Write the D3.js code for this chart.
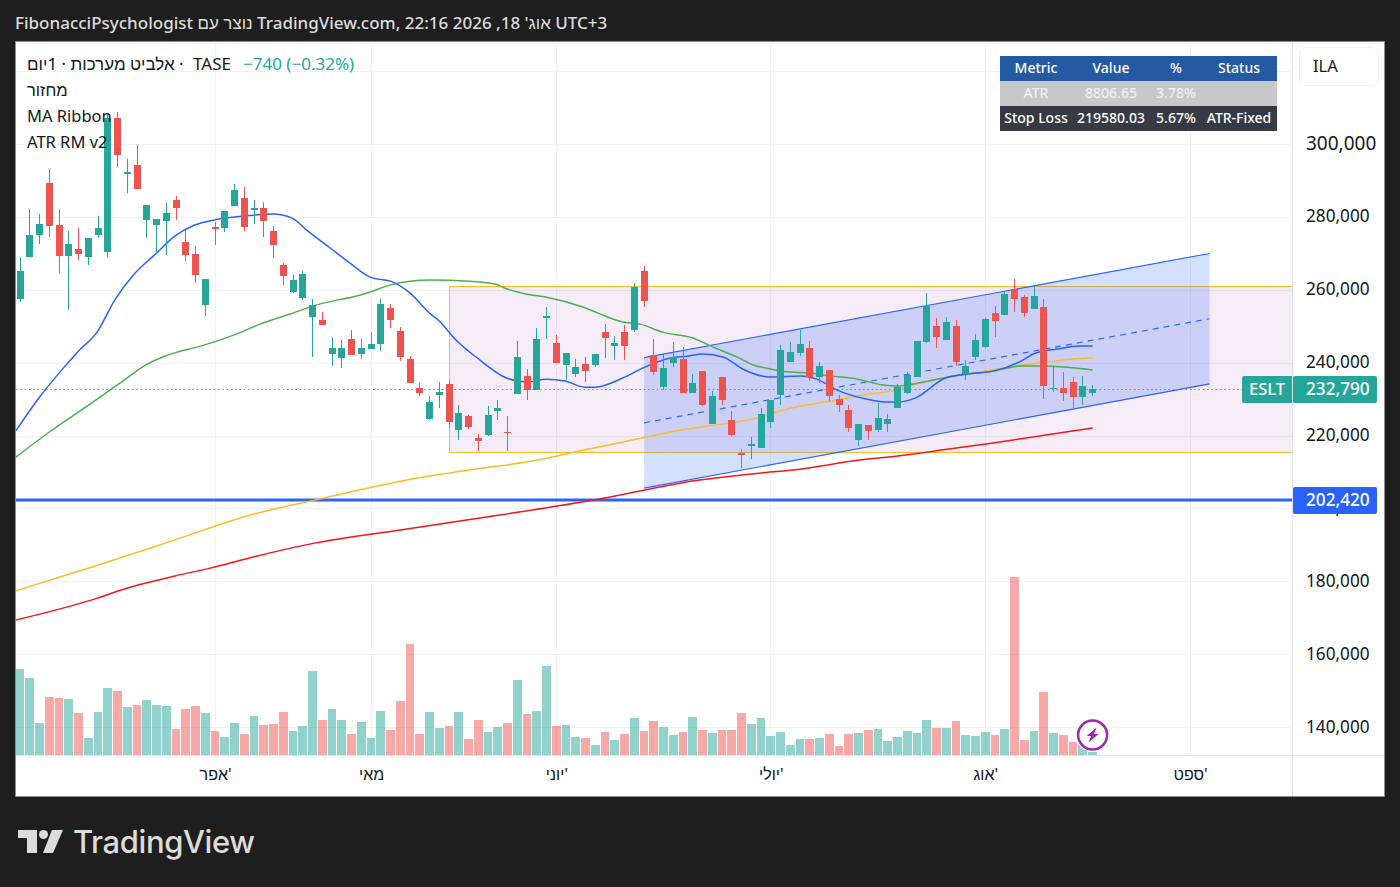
<!DOCTYPE html>
<html lang="he">
<head>
<meta charset="utf-8">
<title>ESLT</title>
<script src="https://cdn.jsdelivr.net/npm/d3@7"></script>
<style>
  html, body { margin: 0; padding: 0; background: #1e1e1e; }
  svg { display: block; font-family: "Noto Sans", "Liberation Sans", sans-serif; }
</style>
</head>
<body>
<div id="chart"></div>
<script>
const width = 1400;
const height = 887;

// Prices in thousands of ILA, one entry per trading day
const candleOpen = [
  257.6,269.1,275.2,289.4,277.9,269.4,271.3,269.1,275.2,270.5,
  307.3,292.2,294.4,279.3,277.9,279,284.8,273.2,269.9,255.9,
  277.3,277.1,283.1,285.3,282,282.6,276.2,266.9,259.5,257.9,
  252.6,251.8,242.5,241.4,246.6,242.5,243.9,245.2,255.1,248.8,
  241.1,233.2,224.6,231.2,234.3,221.6,225.5,219.4,220.3,226.9,
  221.1,231.5,236.5,232.6,252.4,245.5,239.5,237,239.8,239.5,
  248.5,244.7,248.5,249.1,265.3,242.2,233.4,240,241.1,231.8,
  237.8,223.3,236.2,224.4,215.3,217.5,216.7,223.8,231.2,240.3,
  242.8,244.1,236.2,238.1,230.1,227.1,218.9,223,221.6,223.3,
  227.7,231.8,236.2,245.8,250.2,246.3,250.2,237,241.7,244.4,
  253.8,253.2,260.3,258.1,254.8,255.4,232.9,233.2,234.8,230.7,231.8
];
const candleHigh = [
  269.1,282.3,280.9,293.3,282.3,276.2,277.1,274.3,280.4,308.6,
  308.9,296,299.9,283.4,279.5,283.9,285.9,277.1,272.1,263.1,
  278.7,281.7,289.1,288.3,284.8,284.2,277.6,267.5,264.2,265.3,
  257.6,254,247.2,246.3,249.1,246.6,248.5,257.6,256.2,249.9,
  241.9,234.5,231,234.8,235.4,228.5,225.8,220.5,228.2,229.9,
  225.5,246,238.4,249.6,255.4,247.7,242.8,241.1,241.7,242.5,
  250.7,247.4,250.5,262,266.6,246.6,242.5,245.8,244.4,237,
  237.8,232.3,236.2,226.9,216.4,219.7,227.7,229.9,245,245.8,
  249.1,246,240.3,238.1,231.2,228.5,223.3,223,229.1,226,
  234.3,237.6,246,259.2,252.4,252.6,251.8,240.9,248,252.4,
  255.7,259.8,263.1,258.7,261.4,257.6,238.9,237.6,236.2,236.5,234
];
const candleLow = [
  256.8,269.1,272.7,274.6,264.7,254.6,268.3,266.9,274.3,269.1,
  293.8,286.7,287.8,274.3,270.5,269.7,279.3,268,262,252.9,
  272.4,276,283.1,276.2,278.2,274.6,268.8,261.4,259.2,257.4,
  241.7,250.5,239.2,238.7,242.2,241.1,243.9,243.3,249.6,240.6,
  234.5,231,224.4,227.7,222.2,218.9,221.9,215.9,220,224.4,
  215.9,231.5,229.9,232.6,246.6,240,235.4,236.2,234.8,238.9,
  241.4,240.9,240.9,248.5,255.4,236.7,232.6,238.9,231.8,231.8,
  228.2,223.3,228.5,220,211.2,213.7,216.7,222.2,228.5,240.3,
  241.9,235.1,234.5,229.6,226.6,221.1,217.3,218.9,221.1,221.1,
  227.7,231.5,236.2,245.5,244.1,246.3,239.2,235.4,240.9,244.1,
  247.2,253.2,254,252.6,254.8,230.2,232.1,229.6,227.7,228.5,231
];
const candleClose = [
  265.3,275.2,278.2,277.6,269.4,272.7,269.9,274.3,277.1,307.3,
  297.1,292.4,287.8,283.4,279.5,281.2,282.6,269.7,264.2,263.1,
  276.8,281.7,287.5,277.3,282.6,279,272.4,263.9,262.8,264.5,
  255.9,250.5,244.1,244.1,242.2,244.1,245.2,256.2,251.8,241.7,
  234.5,231.8,229.3,232.1,223.8,226.3,222.5,218.6,225.8,227.7,
  220.8,241.7,232.6,246.6,252.9,240,242.8,238.9,237.8,242.5,
  246.9,245.5,244.7,260.9,257,237.6,238.7,241.7,231.8,234.5,
  228.5,231,229.9,220.3,215,217.8,226,229.9,243.6,243,
  245.2,236.2,239.2,231,228.5,222.2,223.3,221.4,224.9,224.7,
  233.4,236.7,246,255.7,247.2,251.3,240.3,239.2,246.3,252.1,
  251.6,258.9,257.6,253.8,258.4,233.7,233.2,231.8,230.7,233.7,232.79
];
// Volume, estimated relative heights (no scale is shown on the picture)
const volume = [
  86,77,32,58,57,56,42,17,43,67,64,48,50,55,50,49,26,46,49,42,
  24,18,32,21,39,30,31,43,24,29,84,35,46,35,21,33,17,44,25,54,
  111,21,43,27,29,43,16,35,23,28,32,75,41,44,89,29,30,18,17,10,
  23,15,21,37,24,34,28,20,23,38,25,22,25,25,42,31,37,19,23,10,
  16,16,17,21,9,21,22,25,26,14,18,24,22,35,27,27,34,20,19,23,
  20,26,178,15,24,63,22,20,13,10,3
];

// Moving averages: [candle index, price]
const maBlue = [[-0.44,221.4],[2,230.7],[4.1,237.6],[6.1,243.6],[7.9,248.5],[9.7,257.3],[11.8,264.7],[13.8,269.7],[15.9,274.9],[17.9,277.9],[19.9,279.3],[22,280.1],[23.9,280.6],[25.9,280.9],[27.9,279.8],[29.4,276.5],[31.8,271.6],[33.8,267.5],[35.9,263.6],[38.2,262.3],[40,259.2],[42,253.7],[43.1,251.3],[44.4,247.2],[46.9,241.4],[49.9,235.9],[52,234.8],[54,235.6],[55.9,235.1],[57.9,233.4],[59,233.4],[61.8,235.9],[63.9,238.7],[66.7,241.4],[68.4,241.9],[70,242.5],[72.1,241.7],[74.1,238.4],[76.9,236.2],[80,236.5],[81.7,235.6],[83.8,232.6],[86.9,230.1],[88.9,229.3],[89.9,229.3],[91.8,230.4],[94.9,235.9],[97.1,237],[99.8,237.8],[102.9,240.9],[103.9,242.5],[106.4,243.9],[108.7,244.7],[110,244.7]];
const maGreen = [[-0.44,214.2],[3,221.1],[7.8,229.9],[10.7,235.4],[12.7,239.2],[14.8,241.9],[18.95,245],[22.5,248.3],[24.6,250.7],[27.7,253.5],[30.7,256.2],[34.9,258.7],[36.2,259.8],[37.9,261.4],[40,262.5],[42,262.8],[46.1,262.5],[48.7,261.7],[49.7,260.6],[52,258.9],[54,258.1],[57.7,255.4],[59.2,253.8],[61.8,251.3],[63.6,250.7],[65.9,248.5],[69,246.9],[71.1,244.4],[73.5,241.7],[75.2,239.5],[76.9,238.4],[78.7,237.6],[81,237.3],[83.1,236.5],[85.9,235.6],[88.5,234],[89.9,233.7],[92,234.5],[94.7,235.9],[97.1,237],[99.8,237.8],[102.6,239.2],[104.3,239.2],[107.4,238.9],[110,238.1]];
const maYellow = [[-0.44,177.5],[7.7,184.3],[15.9,191.5],[23.6,198.3],[30.2,202.4],[39,207.6],[46.1,210.7],[53.1,213.4],[56.9,215.6],[63.9,219.5],[66.7,221.1],[72.8,223.6],[75.6,224.9],[78.2,227.1],[83.8,229.9],[87.2,231.5],[89.9,232.6],[91.6,234],[94.7,235.9],[98.5,237.6],[102.9,239.5],[105.3,240.3],[108,241.1],[110,241.4]];
const maRed = [[-0.44,169.5],[7.7,175.3],[10.7,178],[15.9,181.6],[19.3,183.6],[23.6,186.6],[30.2,190.6],[39,194.2],[49.2,198.3],[58.4,202.2],[69.7,207.9],[76.9,210.1],[79.3,210.7],[86.1,213.4],[90.2,214.6],[94.7,216.2],[99.8,218.1],[110,222.2]];

// Drawings
const zoneIdx = [44, 135];
const zonePrice = [215.5, 261];
const channelIdx = [64, 122];
const channelTop = [241.5, 270.1];
const channelMid = [223.6, 252.2];
const channelBottom = [205.7, 234.3];
const supportPrice = 202.42;
const lastPrice = 232.79;

// Axis labels
const priceTicks = [140, 160, 180, 200, 220, 240, 260, 280, 300];
const gridPrices = priceTicks.concat([320]);
const monthIdx = [20, 36, 55, 77, 99, 120];
const monthLabels = ["אפר'", "מאי", "יוני'", "יולי'", "אוג'", "ספט'"];

// Info table
const tableHeader = ["Metric", "Value", "%", "Status"];
const tableAtr = ["ATR", "8806.65", "3.78%", ""];
const tableStop = ["Stop Loss", "219580.03", "5.67%", "ATR-Fixed"];

const legendLines = ["מחזור", "MA Ribbon", "ATR RM v2"];

const plotLeft = 16, plotRight = 1292, plotTop = 42, plotBottom = 755;

const svg = d3.select("#chart")
  .append("svg")
  .attr("width", width)
  .attr("height", height);

svg.append("rect").attr("width", width).attr("height", height).attr("fill", "#1e1e1e");
svg.append("rect")
  .attr("x", 15.5).attr("y", 41.5)
  .attr("width", 1369).attr("height", 755)
  .attr("fill", "#fff").attr("stroke", "#8f8f8f");

svg.append("clipPath").attr("id", "plot")
  .append("rect")
  .attr("x", plotLeft).attr("y", plotTop)
  .attr("width", plotRight - plotLeft).attr("height", plotBottom - plotTop);

const x = d3.scaleLinear().domain([0, 110]).range([20.1, 1092.6]);
const y = d3.scaleLinear().domain([140, 300]).range([727.5, 144.5]);
const yVol = d3.scaleLinear().domain([0, 178]).range([755, 577]);

const snap = v => Math.floor(v) + 0.5;
const indices = d3.range(candleOpen.length);
const isUp = i => candleClose[i] >= candleOpen[i];

const plot = svg.append("g").attr("clip-path", "url(#plot)");

// grid
plot.append("g").selectAll("line").data(gridPrices).enter().append("line")
  .attr("x1", plotLeft).attr("x2", plotRight)
  .attr("y1", d => snap(y(d))).attr("y2", d => snap(y(d)))
  .attr("stroke", "#f0f1f3");
plot.append("g").selectAll("line").data(monthIdx).enter().append("line")
  .attr("x1", d => snap(x(d))).attr("x2", d => snap(x(d)))
  .attr("y1", plotTop).attr("y2", plotBottom)
  .attr("stroke", "#f0f1f3");

// volume
plot.append("g").selectAll("rect").data(indices).enter().append("rect")
  .attr("x", i => Math.floor(x(i)) - 4)
  .attr("width", i => Math.floor(x(i + 1)) - Math.floor(x(i)) - 1)
  .attr("y", i => yVol(volume[i]))
  .attr("height", i => yVol(0) - yVol(volume[i]))
  .attr("fill", i => isUp(i) ? "#26a69a" : "#ef5350")
  .attr("opacity", 0.5);

// price zone
const zoneLeft = snap(x(zoneIdx[0]));
const zoneRight = x(zoneIdx[1]);
const zoneTop = snap(y(zonePrice[1]));
const zoneBottom = snap(y(zonePrice[0]));
plot.append("rect")
  .attr("x", zoneLeft)
  .attr("y", zoneTop)
  .attr("width", zoneRight - zoneLeft)
  .attr("height", zoneBottom - zoneTop)
  .attr("fill", "#9c27b0").attr("fill-opacity", 0.09);
plot.append("path")
  .attr("d", d3.line()([[zoneRight, zoneTop], [zoneLeft, zoneTop], [zoneLeft, zoneBottom], [zoneRight, zoneBottom]]))
  .attr("fill", "none").attr("stroke", "#f9bd25").attr("stroke-width", 1);

// regression channel
const channelData = channelIdx.map((d, i) => ({ i: d, top: channelTop[i], mid: channelMid[i], bottom: channelBottom[i] }));
plot.append("path").datum(channelData)
  .attr("d", d3.area().x(d => x(d.i)).y0(d => y(d.bottom)).y1(d => y(d.top)))
  .attr("fill", "#2962ff").attr("fill-opacity", 0.2);
["top", "bottom", "mid"].forEach(k => {
  plot.append("path").datum(channelData)
    .attr("d", d3.line().x(d => x(d.i)).y(d => y(d[k])))
    .attr("fill", "none").attr("stroke", "#2962ff").attr("stroke-width", 1.1)
    .attr("stroke-dasharray", k === "mid" ? "6,5" : null);
});

// last price and support lines
plot.append("line")
  .attr("x1", plotLeft).attr("x2", plotRight)
  .attr("y1", snap(y(lastPrice))).attr("y2", snap(y(lastPrice)))
  .attr("stroke", "#5b9a95").attr("stroke-dasharray", "1.5,2.8");
plot.append("line")
  .attr("x1", plotLeft).attr("x2", plotRight)
  .attr("y1", y(supportPrice)).attr("y2", y(supportPrice))
  .attr("stroke", "#2962ff").attr("stroke-width", 3);

// moving averages
const maLine = d3.line().x(d => x(d[0])).y(d => y(d[1])).curve(d3.curveMonotoneX);
[[maRed, "#f2171a"], [maYellow, "#f9bd25"], [maGreen, "#4caf50"], [maBlue, "#2962ff"]].forEach(([data, color]) => {
  plot.append("path")
    .attr("d", maLine(data))
    .attr("fill", "none").attr("stroke", color).attr("stroke-width", 1.5);
});

// candles
const candles = plot.append("g").selectAll("g").data(indices).enter().append("g")
  .attr("fill", i => isUp(i) ? "#26a69a" : "#ef5350")
  .attr("shape-rendering", "crispEdges");
candles.append("rect")
  .attr("x", i => Math.floor(x(i)))
  .attr("width", 1)
  .attr("y", i => y(candleHigh[i]))
  .attr("height", i => y(candleLow[i]) - y(candleHigh[i]));
candles.append("rect")
  .attr("x", i => Math.floor(x(i)) - 3)
  .attr("width", 7)
  .attr("y", i => y(Math.max(candleOpen[i], candleClose[i])))
  .attr("height", i => Math.max(1.5, Math.abs(y(candleOpen[i]) - y(candleClose[i]))));

// price axis
svg.append("line")
  .attr("x1", 1292.5).attr("x2", 1292.5).attr("y1", 42).attr("y2", 796)
  .attr("stroke", "#e0e3eb");
svg.append("line")
  .attr("x1", 16).attr("x2", 1384).attr("y1", 755.5).attr("y2", 755.5)
  .attr("stroke", "#e0e3eb");

const yAxis = d3.axisRight(y)
  .tickValues(priceTicks)
  .tickFormat(d => d3.format(",")(d * 1000))
  .tickSize(0)
  .tickPadding(14);
const yAxisG = svg.append("g").attr("transform", "translate(1292,-1)").call(yAxis);
yAxisG.select(".domain").remove();
yAxisG.selectAll("text")
  .attr("fill", "#131722")
  .attr("font-family", "\"Noto Sans\", sans-serif")
  .attr("font-size", d => d === 300 ? 19 : 17.2);

// time axis
const xAxis = d3.axisBottom(x)
  .tickValues(monthIdx)
  .tickFormat((d, i) => monthLabels[i])
  .tickSize(0)
  .tickPadding(14);
const xAxisG = svg.append("g").attr("transform", "translate(0,755)").call(xAxis);
xAxisG.select(".domain").remove();
xAxisG.selectAll("text")
  .attr("fill", "#131722")
  .attr("font-family", "\"Noto Sans\", \"Liberation Sans\", sans-serif")
  .attr("font-size", 16);

// title and legend
svg.append("text")
  .attr("x", 15).attr("y", 29)
  .attr("fill", "#dcdcdc").attr("font-size", 17).attr("font-weight", 500)
  .text("FibonacciPsychologist נוצר עם TradingView.com, אוג' 18, 2026 22:16 UTC+3");

const legend = svg.append("text")
  .attr("x", 27).attr("y", 70)
  .attr("font-size", 17).attr("fill", "#131722");
legend.append("tspan").text("אלביט מערכות · 1יום · ");
legend.append("tspan").attr("dx", 5).text("TASE");
legend.append("tspan").attr("dx", 12).attr("fill", "#26a69a").text("−740 (−0.32%)");

svg.append("g").selectAll("text").data(legendLines).enter().append("text")
  .attr("x", 27)
  .attr("y", (d, i) => 96 + i * 26)
  .attr("font-size", 16.5).attr("fill", "#131722")
  .text(d => d);

// info table
const columnX = [1036, 1111, 1176, 1239];
const tableRows = [
  { cells: tableHeader, bg: "#255aa3", fg: "#ffffff" },
  { cells: tableAtr, bg: "#c7c8cc", fg: "#f0f0f0" },
  { cells: tableStop, bg: "#363a45", fg: "#ffffff" }
];
tableRows.forEach((row, r) => {
  svg.append("rect")
    .attr("x", 1000).attr("y", 56 + r * 25)
    .attr("width", 277).attr("height", 25)
    .attr("fill", row.bg);
  row.cells.forEach((c, j) => {
    svg.append("text")
      .attr("x", columnX[j]).attr("y", 73 + r * 25)
      .attr("text-anchor", "middle")
      .attr("font-size", 14).attr("font-weight", 500).attr("fill", row.fg)
      .text(c);
  });
});

// currency box
svg.append("rect")
  .attr("x", 1299.5).attr("y", 47.5).attr("width", 79).attr("height", 38).attr("rx", 6)
  .attr("fill", "#fff").attr("stroke", "#f0f1f3");
svg.append("text")
  .attr("x", 1313).attr("y", 72)
  .attr("font-size", 16.5).attr("fill", "#131722")
  .text("ILA");

// price badges
svg.append("rect")
  .attr("x", 1242).attr("y", y(lastPrice) - 13.5).attr("width", 52).attr("height", 27).attr("rx", 2)
  .attr("fill", "#26a69a");
svg.append("rect")
  .attr("x", 1293).attr("y", y(lastPrice) - 13.5).attr("width", 84).attr("height", 27).attr("rx", 2)
  .attr("fill", "#26a69a");
svg.append("line")
  .attr("x1", 1292.5).attr("x2", 1292.5).attr("y1", y(lastPrice) - 13.5).attr("y2", y(lastPrice) + 13.5)
  .attr("stroke", "#e0e3eb");
svg.append("rect")
  .attr("x", 1293).attr("y", y(supportPrice) - 13).attr("width", 84).attr("height", 27).attr("rx", 2)
  .attr("fill", "#2962ff");
svg.append("text")
  .attr("x", 1249).attr("y", y(lastPrice) + 6)
  .attr("font-size", 16.5).attr("font-weight", 500).attr("fill", "#fff")
  .text("ESLT");
[lastPrice, supportPrice].forEach(p => {
  svg.append("text")
    .attr("x", 1306).attr("y", y(p) + 5.5)
    .attr("font-size", 17.2).attr("font-weight", 500).attr("fill", "#fff")
    .text(d3.format(",")(Math.round(p * 1000)));
});

// lightning badge
const badge = svg.append("g").attr("transform", `translate(${x(110)},735)`);
badge.append("circle").attr("r", 17).attr("fill", "#fff").attr("fill-opacity", 0.8);
badge.append("circle").attr("r", 14.5).attr("fill", "#fff").attr("stroke", "#9c27b0").attr("stroke-width", 2.5);
badge.append("path").attr("d", "M4,-7.5 L-6,1 L-1.5,1 L-4,7.5 L6,-1 L1.5,-1 Z").attr("fill", "#9c27b0");

// logo
const logo = svg.append("g").attr("fill", "#dcdcdc");
logo.append("path").attr("d", "M18,830 H37 V853 H27 V838 H18 Z");
logo.append("circle").attr("cx", 43.5).attr("cy", 834.5).attr("r", 4.5);
logo.append("path").attr("d", "M52,830 H63 L53,853 H43 Z");
logo.append("text")
  .attr("x", 73).attr("y", 853)
  .attr("font-size", 31).attr("font-weight", 500)
  .attr("letter-spacing", -0.4)
  .attr("font-family", "Inter, \"Noto Sans\", sans-serif")
  .text("TradingView");
</script>
</body>
</html>
